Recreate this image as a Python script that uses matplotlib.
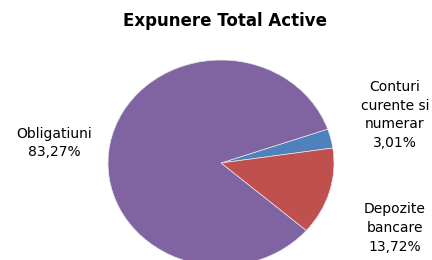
import matplotlib
matplotlib.use('Agg')
from matplotlib import pyplot as plt

# data
labels = ['Conturi\ncurente si\nnumerar', 'Depozite\nbancare', 'Obligatiuni']
values = [3.01, 13.72, 83.27]
colors = ['#4F81BD', '#C0504D', '#8064A2']
title = 'Expunere Total Active'

plt.rcParams['font.family'] = ['DejaVu Sans']

fig = plt.figure(figsize=(4.32, 2.6), dpi=100)
# pie is slightly squashed in the reference, so use a non-equal axes box
ax = fig.add_axes([108/432, -6/260, 226/432, 206/260])
wedges, _ = ax.pie(values, colors=colors, startangle=19.2, counterclock=False,
                   wedgeprops=dict(edgecolor='#e8e8e8', linewidth=0.5))
ax.set_aspect('auto')
ax.set_xlim(-1, 1)
ax.set_ylim(-1, 1)
ax.axis('off')

fig.text(225/432, 1 - 21/260, title, ha='center', va='center',
         fontsize=12, fontweight='bold')

# labels: "name\nvalue%" with comma decimal
def lbl(i):
    return labels[i] + '\n' + ('%.2f%%' % values[i]).replace('.', ',')

fig.text(54/432, 1 - 143/260, lbl(2), ha='center', va='center',
         fontsize=10, linespacing=1.45)
fig.text(395/432, 1 - 115/260, lbl(0), ha='center', va='center',
         fontsize=10, linespacing=1.45)
fig.text(395/432, 1 - 228/260, lbl(1), ha='center', va='center',
         fontsize=10, linespacing=1.45)

fig.savefig('out.png', dpi=100)
